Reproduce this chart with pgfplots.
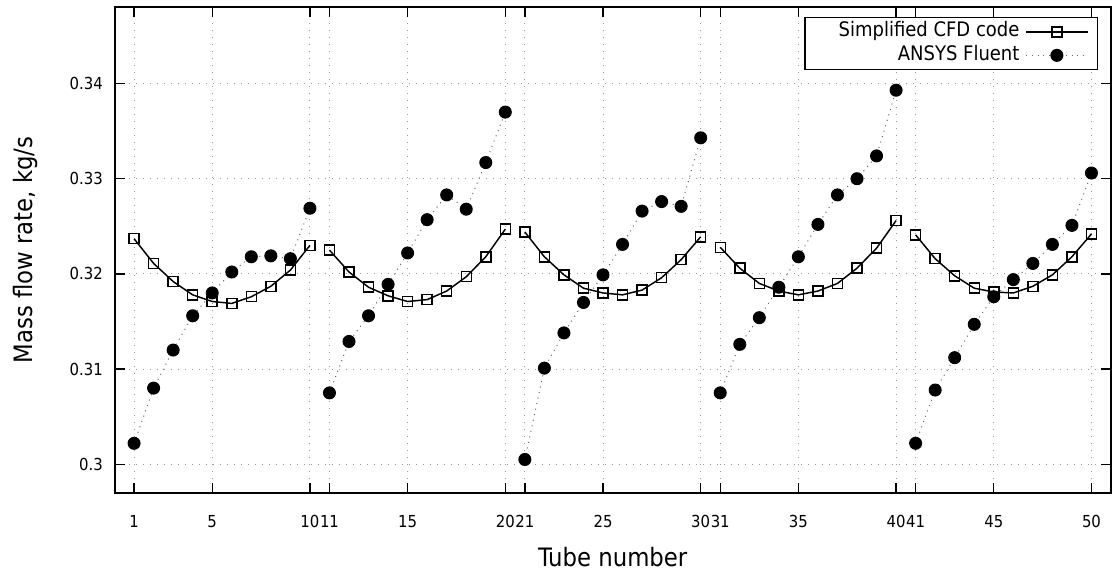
\documentclass[border=0pt]{standalone}
\usepackage{pgfplots}
\pgfplotsset{compat=1.18}
\usepackage{pgfplotstable}
\usepackage{fontspec}
\setmainfont{DejaVu Sans Condensed}

\pgfplotstableread{
x y
1 0.3237
2 0.3211
3 0.3192
4 0.3178
5 0.3171
6 0.3169
7 0.3176
8 0.3187
9 0.3204
10 0.3230
10.5 nan
11 0.3225
12 0.3202
13 0.3186
14 0.3177
15 0.3171
16 0.3173
17 0.3182
18 0.3197
19 0.3218
20 0.3247
20.5 nan
21 0.3244
22 0.3218
23 0.3199
24 0.3185
25 0.3180
26 0.3178
27 0.3183
28 0.3196
29 0.3215
30 0.3239
30.5 nan
31 0.3228
32 0.3206
33 0.3190
34 0.3182
35 0.3178
36 0.3182
37 0.3190
38 0.3206
39 0.3227
40 0.3256
40.5 nan
41 0.3241
42 0.3216
43 0.3198
44 0.3185
45 0.3181
46 0.3180
47 0.3187
48 0.3199
49 0.3218
50 0.3242
}\cfddata

\pgfplotstableread{
x y
1 0.3022
2 0.3080
3 0.3120
4 0.3156
5 0.3180
6 0.3202
7 0.3218
8 0.3219
9 0.3216
10 0.3269
10.5 nan
11 0.3075
12 0.3129
13 0.3156
14 0.3189
15 0.3222
16 0.3257
17 0.3283
18 0.3268
19 0.3317
20 0.3370
20.5 nan
21 0.3005
22 0.3101
23 0.3138
24 0.3170
25 0.3199
26 0.3231
27 0.3266
28 0.3276
29 0.3271
30 0.3343
30.5 nan
31 0.3075
32 0.3126
33 0.3154
34 0.3186
35 0.3218
36 0.3252
37 0.3283
38 0.3300
39 0.3324
40 0.3393
40.5 nan
41 0.3022
42 0.3078
43 0.3112
44 0.3147
45 0.3176
46 0.3194
47 0.3211
48 0.3231
49 0.3251
50 0.3306
}\fluentdata

\begin{document}
\begin{tikzpicture}
\begin{axis}[
  scale only axis,
  width=747.35pt, height=364.95pt,
  xmin=0, xmax=51,
  ymin=0.29695, ymax=0.34808,
  axis line style={line width=1.5pt},
  every tick/.style={black, line width=1pt},
  major tick length=7.5pt,
  tick align=inside,
  xtick={1,5,10,11,15,20,21,25,30,31,35,40,41,45,50},
  xticklabels={1,5,10,11,15,20,21,25,30,31,35,40,41,45,50},
  ytick={0.30,0.31,0.32,0.33,0.34},
  yticklabels={0.3,0.31,0.32,0.33,0.34},
  xticklabel style={font=\fontsize{12.4}{14}\selectfont, anchor=north, inner sep=0pt, yshift=-16.3pt},
  yticklabel style={font=\fontsize{12.4}{14}\selectfont, anchor=east, inner sep=0pt, xshift=-8.6pt},
  grid=major,
  major grid style={gray!80, line width=0.75pt, dash pattern=on 0.75pt off 4.5pt},
  unbounded coords=jump,
  legend plot pos=right,
  legend cell align=right,
  legend style={at={(rel axis cs:1,1)}, anchor=north east, xshift=-9.75pt, yshift=-7.7pt,
    draw=black, line width=1.1pt, font=\fontsize{15}{17}\selectfont,
    inner xsep=6.75pt, inner ysep=2pt, row sep=0pt, column sep=3pt,
    nodes={inner sep=1.5pt, text height=11pt, text depth=3.5pt}},
  legend image code/.code={\draw[mark repeat=2, mark phase=2, #1] plot coordinates {(0pt,0pt) (23pt,0pt) (46pt,0pt)};},
]
\addplot[black, line width=1.1pt, mark=square, mark size=3.75pt, mark options={solid, line width=1.1pt}] table[x=x, y=y] {\cfddata};
\addlegendentry{\hspace*{17pt}Simplified CFD code}
\addplot[gray!80!black, line width=0.75pt, dash pattern=on 0.75pt off 3.5pt, mark=*, mark size=4.5pt, mark options={solid, fill=black, draw=black}] table[x=x, y=y] {\fluentdata};
\addlegendentry{ANSYS Fluent}
\end{axis}
\node[rotate=90, font=\fontsize{19}{22}\selectfont] at ([xshift=-67.1pt]current axis.west) {Mass flow rate, kg/s};
\node[font=\fontsize{19}{22}\selectfont] at ([yshift=-47.8pt]current axis.south) {Tube number};
\pgfresetboundingbox
\path[use as bounding box] ([xshift=-85.9pt, yshift=-62.8pt]current axis.south west) rectangle ([xshift=1.5pt, yshift=5pt]current axis.north east);
\end{tikzpicture}
\end{document}
